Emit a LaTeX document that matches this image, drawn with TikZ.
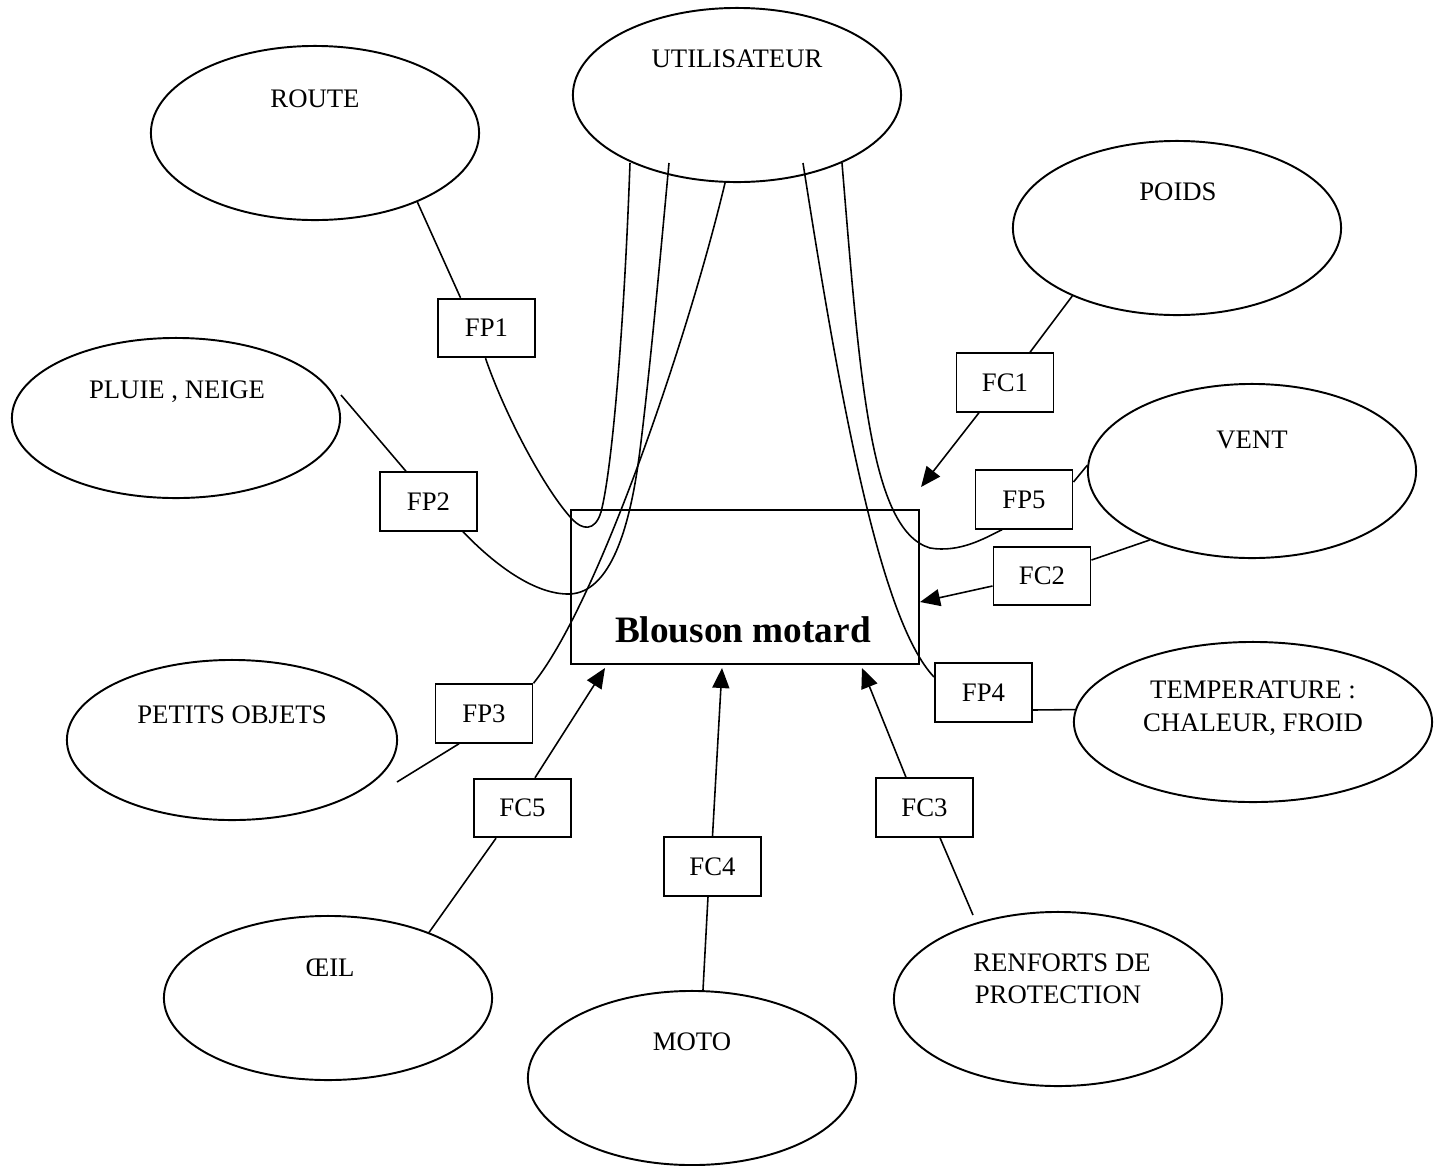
\documentclass[tikz,border=0pt]{standalone}
\usepackage{fontspec}
\setmainfont{Liberation Serif}
\usetikzlibrary{shapes.geometric,arrows.meta,calc}
\begin{document}
\begin{tikzpicture}[x=0.01cm,y=-0.01cm,
  every node/.style={font=\fontsize{7.6pt}{9.4pt}\selectfont},
  ell/.style={draw, ellipse, line width=0.55pt, minimum width=3.28cm, minimum height=1.74cm, inner sep=0pt},
  fbox/.style={draw, line width=0.55pt, minimum width=0.97cm, minimum height=0.585cm, inner sep=0pt},
  lbl/.style={anchor=base, inner sep=0pt},
  conn/.style={line width=0.45pt},
  arr/.style={line width=0.45pt, -{Triangle[length=0.2cm,width=0.17cm]}}
]
\useasboundingbox[fill=white] (0,0) rectangle (1435,1166);

% ellipses
\node[ell] (util) at (737,95) {};
\node[ell] (route) at (315,133) {};
\node[ell] (poids) at (1177,228) {};
\node[ell, minimum height=1.6cm] (pluie) at (176,418) {};
\node[ell] (vent) at (1252,471) {};
\node[ell, minimum width=3.58cm, minimum height=1.6cm] (temp) at (1253,722) {};
\node[ell, minimum width=3.3cm, minimum height=1.6cm] (petits) at (232,740) {};
\node[ell, minimum height=1.64cm] (oeil) at (328,998) {};
\node[ell] (moto) at (692,1078) {};
\node[ell] (renf) at (1058,999) {};

% ellipse texts
\node[lbl] (utilt) at (737,67.5) {UTILISATEUR};
\node[lbl] (routet) at (315,107.5) {ROUTE};
\node[lbl] (poidst) at (1178,200.5) {POIDS};
\node[lbl] (pluiet) at (177,398.5) {PLUIE , NEIGE};
\node[lbl] (ventt) at (1252,448.5) {VENT};
\node[lbl] (tempt1) at (1253,698.5) {TEMPERATURE :};
\node[lbl] (tempt2) at (1253,731.5) {CHALEUR, FROID};
\node[lbl] (petitst) at (232,723.5) {PETITS OBJETS};
\node[lbl] (oeilt) at (330,976.5) {ŒIL};
\node[lbl] (motot) at (692,1050.5) {MOTO};
\node[lbl] (renft1) at (1062,971.5) {RENFORTS DE};
\node[lbl] (renft2) at (1058,1003.5) {PROTECTION};

% central box
\node[draw, line width=0.55pt, minimum width=3.48cm, minimum height=1.54cm, inner sep=0pt] (blouson) at (745,587) {};
\node[lbl, font=\fontsize{10.6pt}{12pt}\selectfont\bfseries] (blousont) at (743,642.5) {Blouson motard};

% function boxes
\node[fbox] (fp1) at (486.5,328) {FP1};
\node[fbox] (fc1) at (1005,382.5) {FC1};
\node[fbox] (fp2) at (428.5,501.5) {FP2};
\node[fbox] (fp5) at (1024,499.5) {FP5};
\node[fbox] (fc2) at (1042,576) {FC2};
\node[fbox] (fp4) at (983.5,692.5) {FP4};
\node[fbox] (fp3) at (484,713.5) {FP3};
\node[fbox] (fc5) at (522.5,808) {FC5};
\node[fbox] (fc3) at (924.5,807.5) {FC3};
\node[fbox] (fc4) at (712.5,866.5) {FC4};

% FP connectors
\draw[conn] (route.-34) -- ($(fp1.north)+(-26,0)$);
\draw[conn] ($(fp1.south)+(-1,0)$) .. controls (505,415) and (545,490) .. (572,519)
  .. controls (582,530) and (595,532) .. (601,512)
  .. controls (612,470) and (624,330) .. ($(util.center)+(-107,68)$);
\draw[conn] ($(pluie.center)+(165,-23)$) -- ($(fp2.north)+(-22.5,0)$);
\draw[conn] ($(fp2.south)+(34.5,0)$) .. controls (495,565) and (535,595) .. (570,594)
  .. controls (610,592) and (630,530) .. (640,450)
  .. controls (650,370) and (660,260) .. ($(util.center)+(-68,68)$);
\draw[conn] ($(petits.center)+(165,42)$) -- ($(fp3.south)+(-25,0)$);
\draw[conn] (fp3.north east) .. controls (600,600) and (690,330) .. ($(util.south)+(-12,0)$);
\draw[conn] ($(util.center)+(66,68)$) .. controls (840,400) and (880,620) .. ($(fp4.west)+(0,-15.5)$);
\draw[conn] ($(fp4.east)+(0,17.5)$) -- (temp.176);
\draw[conn] ($(util.center)+(105,68)$) .. controls (860,380) and (870,530) .. (930,548)
  .. controls (960,553) and (985,538) .. ($(fp5.south)+(-22,0)$);
\draw[conn] ($(fp5.east)+(0,-17.5)$) -- (vent.178);

% FC connectors
\draw[conn] (poids.-147) -- ($(fc1.north)+(25,0)$);
\draw[arr] ($(fc1.south)+(-26,0)$) -- ($(blouson.north east)+(1,-22)$);
\draw[conn] (vent.-146) -- ($(fc2.east)+(0,-16)$);
\draw[arr] ($(fc2.west)+(0,10)$) -- ($(blouson.east)+(0,15)$);
\draw[conn] ($(renf.center)+(-85,-84)$) -- ($(fc3.south)+(15.5,0)$);
\draw[arr] ($(fc3.north)+(-18.5,0)$) -- ($(blouson.south)+(117,3)$);
\draw[conn] ($(moto.north)+(11,0)$) -- ($(fc4.south)+(-4.5,0)$);
\draw[arr] (fc4.north) -- ($(blouson.south)+(-23,3)$);
\draw[conn] (oeil.33) -- ($(fc5.south)+(-26.5,0)$);
\draw[arr] ($(fc5.north)+(12.5,0)$) -- ($(blouson.south)+(-140,3)$);
\end{tikzpicture}
\end{document}
